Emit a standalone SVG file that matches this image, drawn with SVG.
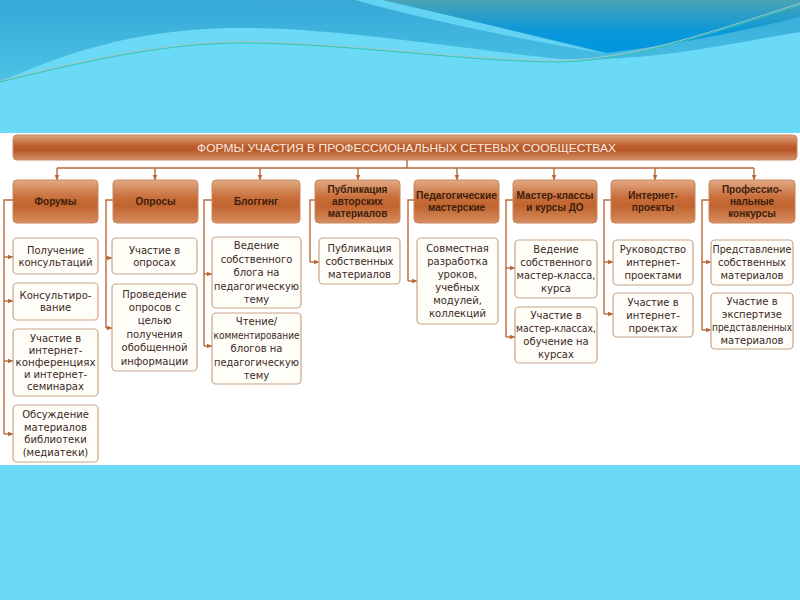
<svg xmlns="http://www.w3.org/2000/svg" width="800" height="600" viewBox="0 0 800 600">
<defs>
<linearGradient id="band" x1="0" y1="0" x2="0" y2="1">
<stop offset="0" stop-color="#36A9D8"/><stop offset="1" stop-color="#4CC3E6"/>
</linearGradient>
<linearGradient id="dark" x1="0" y1="0" x2="0" y2="1">
<stop offset="0" stop-color="#4AA3B4"/><stop offset="0.6" stop-color="#0A98DA"/><stop offset="1" stop-color="#0096DE"/>
</linearGradient>
<linearGradient id="brown" x1="0" y1="0" x2="0" y2="1">
<stop offset="0" stop-color="#E2AA86"/><stop offset="0.4" stop-color="#C96F3B"/><stop offset="0.6" stop-color="#C1642F"/><stop offset="1" stop-color="#D68C5E"/>
</linearGradient>
<linearGradient id="hdr" x1="0" y1="0" x2="0" y2="1">
<stop offset="0" stop-color="#DDA27D"/><stop offset="0.45" stop-color="#BC5C2B"/><stop offset="0.6" stop-color="#B75628"/><stop offset="1" stop-color="#D59066"/>
</linearGradient>
<marker id="ar" markerUnits="userSpaceOnUse" markerWidth="6" markerHeight="6" refX="5.5" refY="3" orient="auto">
<path d="M0,0.5 L6,3 L0,5.5 Z" fill="#B8693A"/>
</marker>
<style>
.cat rect{fill:url(#brown);stroke:#C8875F;stroke-width:1}
.cat text{font-family:"Liberation Sans",Arial,sans-serif;font-weight:bold;font-size:10px;fill:#3E1E0C;text-anchor:middle}
.leaf rect{fill:#FFFDF8;stroke:#CBA487;stroke-width:1.2}
.leaf text{font-family:"DejaVu Sans","Liberation Sans",sans-serif;font-size:10px;fill:#3A2A1F;text-anchor:middle}
.con path{fill:none;stroke:#B8693A;stroke-width:1.4}
.con .a{marker-end:url(#ar)}
</style>
</defs>
<rect x="0" y="0" width="800" height="600" fill="#6ADAF7"/>
<g id="waves">
<path d="M0,82 C60,55 130,30 230,28 C330,26 470,50 560,59 C650,62 720,45 800,32 V0 H0 Z" fill="url(#band)"/>
<path d="M355,0 Q455,28 607,54 Q470,20 383,0 Z" fill="#62D3F2"/>
<path d="M383,0 Q470,20 607,53 Q700,42 800,17 V0 Z" fill="url(#dark)"/>
<path d="M0,80.5 C90,58.5 170,40.5 250,41.5 C350,42.5 470,60.5 560,60.5 C640,58.5 720,28.5 800,3.5" fill="none" stroke="#9FC6CC" stroke-width="1"/>
<path d="M0,82 C90,60 170,42 250,43 C350,44 470,62 560,62 C640,60 720,30 800,5" fill="none" stroke="#35C6AE" stroke-width="1"/>
</g>
<rect x="0" y="133" width="800" height="332" fill="#FFFFFF"/>
<g id="header">
<rect x="13" y="135" width="784" height="25" rx="4" fill="url(#hdr)" stroke="#C98A62" stroke-width="1"/>
<text x="406.5" y="151.5" font-family="Liberation Sans,Arial,sans-serif" font-size="11.5" fill="#F7EBE1" text-anchor="middle" textLength="419" lengthAdjust="spacingAndGlyphs">ФОРМЫ УЧАСТИЯ В ПРОФЕССИОНАЛЬНЫХ СЕТЕВЫХ СООБЩЕСТВАХ</text>
</g>
<g id="connectors" class="con">
<path d="M407,160 V168 M57,168 H754"/>
<path class="a" d="M57,168 V180"/>
<path class="a" d="M155,168 V180"/>
<path class="a" d="M260,168 V180"/>
<path class="a" d="M358,168 V180"/>
<path class="a" d="M457,168 V180"/>
<path class="a" d="M554,168 V180"/>
<path class="a" d="M655,168 V180"/>
<path class="a" d="M754,168 V180"/>
<path d="M13,200 H4 V434"/>
<path class="a" d="M4,257 H13"/>
<path class="a" d="M4,301 H13"/>
<path class="a" d="M4,361 H13"/>
<path class="a" d="M4,434 H13"/>
<path d="M113,200 H106 V328"/>
<path class="a" d="M106,258 H112"/>
<path class="a" d="M106,328 H112"/>
<path d="M212,200 H204 V346"/>
<path class="a" d="M204,274 H212"/>
<path class="a" d="M204,346 H212"/>
<path d="M315,200 H310 V262"/>
<path class="a" d="M310,262 H319"/>
<path d="M414,200 H408 V281"/>
<path class="a" d="M408,281 H417"/>
<path d="M513,200 H506 V337"/>
<path class="a" d="M506,268 H515"/>
<path class="a" d="M506,337 H515"/>
<path d="M611,200 H604 V314"/>
<path class="a" d="M604,262 H613"/>
<path class="a" d="M604,314 H613"/>
<path d="M709,200 H702 V330"/>
<path class="a" d="M702,262 H711"/>
<path class="a" d="M702,330 H711"/>
</g>
<g id="c1" class="cat"><rect x="13" y="180" width="85" height="43" rx="4"/><text x="55.5" y="205">Форумы</text></g>
<g id="c2" class="cat"><rect x="113" y="180" width="85" height="43" rx="4"/><text x="155.5" y="205">Опросы</text></g>
<g id="c3" class="cat"><rect x="212" y="180" width="88" height="43" rx="4"/><text x="256" y="205">Блоггинг</text></g>
<g id="c4" class="cat"><rect x="315" y="180" width="85" height="43" rx="4"/><text x="357.5" y="193">Публикация</text><text x="357.5" y="205">авторских</text><text x="357.5" y="217">материалов</text></g>
<g id="c5" class="cat"><rect x="414" y="180" width="85" height="43" rx="4"/><text x="456.5" y="199" textLength="81" lengthAdjust="spacingAndGlyphs">Педагогические</text><text x="456.5" y="211">мастерские</text></g>
<g id="c6" class="cat"><rect x="513" y="180" width="84" height="43" rx="4"/><text x="555" y="199" textLength="77" lengthAdjust="spacingAndGlyphs">Мастер-классы</text><text x="555" y="211">и курсы ДО</text></g>
<g id="c7" class="cat"><rect x="611" y="180" width="84" height="43" rx="4"/><text x="653" y="199">Интернет-</text><text x="653" y="211">проекты</text></g>
<g id="c8" class="cat"><rect x="709" y="180" width="86" height="43" rx="4"/><text x="752" y="193">Профессио-</text><text x="752" y="205">нальные</text><text x="752" y="217">конкурсы</text></g>
<g id="n1a" class="leaf"><rect x="13" y="238" width="85" height="36" rx="4"/><text x="55.5" y="253.5">Получение</text><text x="55.5" y="265.5">консультаций</text></g>
<g id="n1b" class="leaf"><rect x="13" y="283" width="85" height="37" rx="4"/><text x="55.5" y="298.75">Консультиро-</text><text x="55.5" y="311.25">вание</text></g>
<g id="n1c" class="leaf"><rect x="13" y="329" width="85" height="67" rx="4"/><text x="55.5" y="342">Участие в</text><text x="55.5" y="354">интернет-</text><text x="55.5" y="366" textLength="80" lengthAdjust="spacingAndGlyphs">конференциях</text><text x="55.5" y="378">и интернет-</text><text x="55.5" y="390">семинарах</text></g>
<g id="n1d" class="leaf"><rect x="13" y="405" width="85" height="57" rx="4"/><text x="55.5" y="418.25">Обсуждение</text><text x="55.5" y="430.75">материалов</text><text x="55.5" y="443.25">библиотеки</text><text x="55.5" y="455.75">(медиатеки)</text></g>
<g id="n2a" class="leaf"><rect x="112" y="238" width="85" height="36" rx="4"/><text x="154.5" y="253.5">Участие в</text><text x="154.5" y="265.5">опросах</text></g>
<g id="n2b" class="leaf"><rect x="112" y="284" width="85" height="87" rx="4"/><text x="154.5" y="297.5">Проведение</text><text x="154.5" y="310.9">опросов с</text><text x="154.5" y="324.3">целью</text><text x="154.5" y="337.7">получения</text><text x="154.5" y="351.1">обобщенной</text><text x="154.5" y="364.5">информации</text></g>
<g id="n3a" class="leaf"><rect x="212" y="237" width="89" height="71" rx="4"/><text x="256.5" y="249">Ведение</text><text x="256.5" y="262.5">собственного</text><text x="256.5" y="276">блога на</text><text x="256.5" y="289.5" textLength="85" lengthAdjust="spacingAndGlyphs">педагогическую</text><text x="256.5" y="303">тему</text></g>
<g id="n3b" class="leaf"><rect x="212" y="313" width="89" height="71" rx="4"/><text x="256.5" y="325">Чтение/</text><text x="256.5" y="338.5" textLength="86" lengthAdjust="spacingAndGlyphs">комментирование</text><text x="256.5" y="352">блогов на</text><text x="256.5" y="365.5" textLength="85" lengthAdjust="spacingAndGlyphs">педагогическую</text><text x="256.5" y="379">тему</text></g>
<g id="n4a" class="leaf"><rect x="319" y="238" width="81" height="46" rx="4"/><text x="359.5" y="251.5">Публикация</text><text x="359.5" y="264.5">собственных</text><text x="359.5" y="277.5">материалов</text></g>
<g id="n5a" class="leaf"><rect x="417" y="238" width="81" height="86" rx="4"/><text x="457.5" y="252">Совместная</text><text x="457.5" y="265">разработка</text><text x="457.5" y="278">уроков,</text><text x="457.5" y="291">учебных</text><text x="457.5" y="304">модулей,</text><text x="457.5" y="317">коллекций</text></g>
<g id="n6a" class="leaf"><rect x="515" y="240" width="82" height="58" rx="4"/><text x="556" y="253">Ведение</text><text x="556" y="266">собственного</text><text x="556" y="279" textLength="79" lengthAdjust="spacingAndGlyphs">мастер-класса,</text><text x="556" y="292">курса</text></g>
<g id="n6b" class="leaf"><rect x="515" y="307" width="82" height="56" rx="4"/><text x="556" y="319">Участие в</text><text x="556" y="332" textLength="80" lengthAdjust="spacingAndGlyphs">мастер-классах,</text><text x="556" y="345">обучение на</text><text x="556" y="358">курсах</text></g>
<g id="n7a" class="leaf"><rect x="613" y="240" width="80" height="45" rx="4"/><text x="653" y="253">Руководство</text><text x="653" y="266">интернет-</text><text x="653" y="279">проектами</text></g>
<g id="n7b" class="leaf"><rect x="613" y="293" width="80" height="44" rx="4"/><text x="653" y="305.5">Участие в</text><text x="653" y="318.5">интернет-</text><text x="653" y="331.5">проектах</text></g>
<g id="n8a" class="leaf"><rect x="711" y="240" width="82" height="45" rx="4"/><text x="752" y="253" textLength="79" lengthAdjust="spacingAndGlyphs">Представление</text><text x="752" y="266">собственных</text><text x="752" y="279">материалов</text></g>
<g id="n8b" class="leaf"><rect x="711" y="293" width="82" height="56" rx="4"/><text x="752" y="305">Участие в</text><text x="752" y="318">экспертизе</text><text x="752" y="331" textLength="80" lengthAdjust="spacingAndGlyphs">представленных</text><text x="752" y="344">материалов</text></g>
</svg>
